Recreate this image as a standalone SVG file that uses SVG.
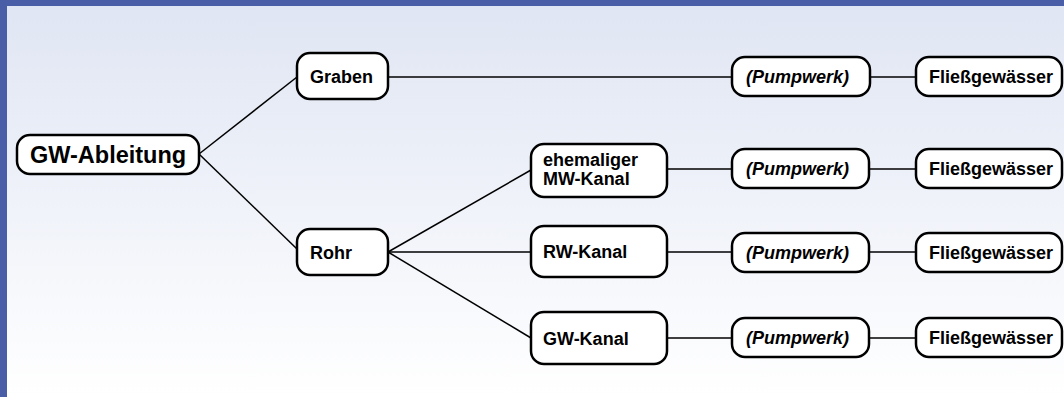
<svg xmlns="http://www.w3.org/2000/svg" width="1064" height="397" viewBox="0 0 1064 397">
<defs>
<linearGradient id="bg" x1="0" y1="0" x2="0" y2="1">
<stop offset="0" stop-color="#dfe5f3"/>
<stop offset="1" stop-color="#ffffff"/>
</linearGradient>
<style>
.box{fill:#fff;stroke:#000;stroke-width:2.5}
.t{font-family:"Liberation Sans",Arial,sans-serif;font-weight:bold;font-size:18px;fill:#000}
.it{font-style:italic}
.big{font-size:23.5px}
#connectors line{stroke:#000;stroke-width:1.5}
</style>
</defs>
<rect x="0" y="0" width="1064" height="397" fill="url(#bg)"/>
<rect x="0" y="0" width="1064" height="6" fill="#4a5ea8"/>
<rect x="0" y="0" width="7" height="397" fill="#4a5ea8"/>
<g id="connectors">
<line x1="199" y1="154" x2="297" y2="77"/>
<line x1="199" y1="154" x2="297" y2="249"/>
<line x1="388" y1="77" x2="732" y2="77"/>
<line x1="870" y1="77" x2="916" y2="77"/>
<line x1="388" y1="252" x2="531" y2="170"/>
<line x1="388" y1="252" x2="531" y2="252"/>
<line x1="388" y1="252" x2="531" y2="338"/>
<line x1="667" y1="169" x2="732" y2="169"/>
<line x1="869" y1="169" x2="916" y2="169"/>
<line x1="667" y1="252" x2="732" y2="252"/>
<line x1="869" y1="252" x2="916" y2="252"/>
<line x1="667" y1="338" x2="732" y2="338"/>
<line x1="869" y1="338" x2="916" y2="338"/>
</g>
<g id="gw-ableitung"><rect class="box" x="17" y="135" width="182" height="39" rx="13"/><text class="t big" x="30" y="163">GW-Ableitung</text></g>
<g id="graben"><rect class="box" x="297" y="53" width="91" height="46" rx="13"/><text class="t" x="310" y="83">Graben</text></g>
<g id="rohr"><rect class="box" x="297" y="229" width="91" height="46" rx="13"/><text class="t" x="310" y="259">Rohr</text></g>
<g id="ehem-mw-kanal"><rect class="box" x="531" y="144" width="136" height="53" rx="13"/><text class="t" x="543" y="166">ehemaliger</text><text class="t" x="543" y="185">MW-Kanal</text></g>
<g id="rw-kanal"><rect class="box" x="531" y="226" width="136" height="51" rx="13"/><text class="t" x="543" y="258">RW-Kanal</text></g>
<g id="gw-kanal"><rect class="box" x="531" y="312" width="136" height="52" rx="13"/><text class="t" x="543" y="345">GW-Kanal</text></g>
<g id="pumpwerk-1"><rect class="box" x="732" y="57" width="138" height="39" rx="13"/><text class="t it" x="746" y="83">(Pumpwerk)</text></g>
<g id="pumpwerk-2"><rect class="box" x="732" y="149" width="137" height="39" rx="13"/><text class="t it" x="746" y="175">(Pumpwerk)</text></g>
<g id="pumpwerk-3"><rect class="box" x="732" y="233" width="137" height="39" rx="13"/><text class="t it" x="746" y="259">(Pumpwerk)</text></g>
<g id="pumpwerk-4"><rect class="box" x="732" y="318" width="137" height="39" rx="13"/><text class="t it" x="746" y="344">(Pumpwerk)</text></g>
<g id="fliess-1"><rect class="box" x="916" y="57" width="146" height="39" rx="13"/><text class="t" x="929" y="83">Fließgewässer</text></g>
<g id="fliess-2"><rect class="box" x="916" y="149" width="146" height="39" rx="13"/><text class="t" x="929" y="175">Fließgewässer</text></g>
<g id="fliess-3"><rect class="box" x="916" y="233" width="146" height="39" rx="13"/><text class="t" x="929" y="259">Fließgewässer</text></g>
<g id="fliess-4"><rect class="box" x="916" y="318" width="146" height="39" rx="13"/><text class="t" x="929" y="344">Fließgewässer</text></g>
</svg>
